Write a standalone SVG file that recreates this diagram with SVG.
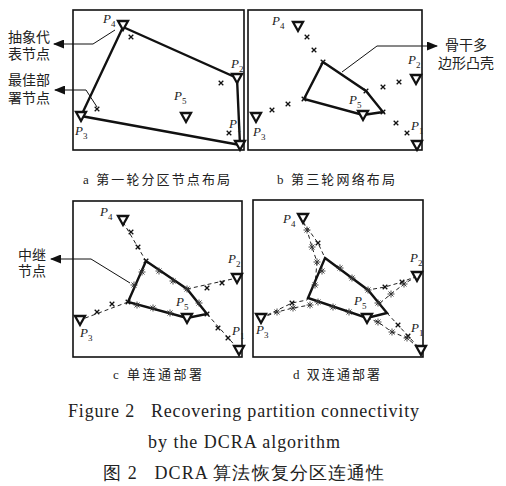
<svg xmlns="http://www.w3.org/2000/svg" xmlns:xlink="http://www.w3.org/1999/xlink" width="506" height="486" viewBox="0 0 506 486">
<defs>
<style>
.frame{fill:none;stroke:#111;stroke-width:1.6}
.poly{fill:none;stroke:#111;stroke-width:2.4;stroke-linejoin:miter}
.lead{fill:none;stroke:#111;stroke-width:1}
.dash{fill:none;stroke:#222;stroke-width:1;stroke-dasharray:4,3}
.tri{fill:#fff;stroke:#111;stroke-width:2.3;stroke-linejoin:miter}
.xm{fill:none;stroke:#111;stroke-width:1.3}
.ast{fill:none;stroke:#333;stroke-width:0.9}
.p{font-family:"Liberation Serif","Times New Roman",serif;font-style:italic;font-size:13px;fill:#222}
.sub{font-style:normal;font-size:9px;fill:#222}
.cn{font-family:"Liberation Serif","Noto Sans CJK SC",serif;font-size:14px;fill:#222}
.cap{font-family:"Liberation Serif","Noto Sans CJK SC",serif;font-size:13px;fill:#222}
.en{font-family:"Liberation Serif","Times New Roman",serif;font-size:18px;fill:#222}
</style>
<path id="tri" class="tri" d="M-5,-4 L5,-4 L0,5 Z"/>
<path id="xm" class="xm" d="M-2.3,-2.3L2.3,2.3M2.3,-2.3L-2.3,2.3"/>
<path id="ast" class="ast" d="M-3.5,0H3.5M0,-3.5V3.5M-2.5,-2.5L2.5,2.5M2.5,-2.5L-2.5,2.5"/>
<marker id="arr" markerWidth="11" markerHeight="9" refX="10" refY="4.5" orient="auto" markerUnits="userSpaceOnUse">
<path d="M0,0 L11,4.5 L0,9 Z" fill="#111"/>
</marker>
</defs>
<rect width="506" height="486" fill="#fff"/>

<!-- Panel a -->
<g id="panel-a">
<rect class="frame" x="73" y="10" width="171" height="140"/>
<g id="a-connectors">
<polygon class="poly" points="123,27 237,78 240,145 81,116"/>
<polyline class="lead" points="115,30 93,44 54,44" marker-end="url(#arr)"/>
<polyline class="lead" points="97,107 86,90 55,90" marker-end="url(#arr)"/>
</g>
<g id="a-nodes">
<use xlink:href="#tri" x="123" y="25"/>
<use xlink:href="#tri" x="237" y="78"/>
<use xlink:href="#tri" x="240" y="145"/>
<use xlink:href="#tri" x="81" y="116"/>
<use xlink:href="#tri" x="186" y="117"/>
<use xlink:href="#xm" x="131" y="37"/>
<use xlink:href="#xm" x="221" y="83"/>
<use xlink:href="#xm" x="97" y="109"/>
<use xlink:href="#xm" x="229" y="133"/>
</g>
<text class="p" x="103" y="23">P<tspan class="sub" dy="4">4</tspan></text>
<text class="p" x="231" y="68">P<tspan class="sub" dy="4">2</tspan></text>
<text class="p" x="174" y="100">P<tspan class="sub" dy="4">5</tspan></text>
<text class="p" x="229" y="128">P<tspan class="sub" dy="4">1</tspan></text>
<text class="p" x="75" y="135">P<tspan class="sub" dy="4">3</tspan></text>
<text class="cn" x="8" y="42">抽象代</text>
<text class="cn" x="8" y="59">表节点</text>
<text class="cn" x="8" y="85">最佳部</text>
<text class="cn" x="8" y="103">署节点</text>
<text class="cap" x="83" y="184" textLength="147">a 第一轮分区节点布局</text>
</g>

<!-- Panel b -->
<g id="panel-b">
<rect class="frame" x="248" y="10" width="174" height="140"/>
<g id="b-connectors">
<polygon class="poly" points="323,62 366,91 383,112 363,115 304,99"/>
<polyline class="lead" points="342,72 377,46 437,46" marker-end="url(#arr)"/>
</g>
<g id="b-nodes">
<use xlink:href="#tri" x="298" y="26"/>
<use xlink:href="#tri" x="416" y="79"/>
<use xlink:href="#tri" x="256" y="117"/>
<use xlink:href="#tri" x="417" y="145"/>
<use xlink:href="#tri" x="363" y="115"/>
<use xlink:href="#xm" x="307" y="37"/>
<use xlink:href="#xm" x="314" y="50"/>
<use xlink:href="#xm" x="323" y="62"/>
<use xlink:href="#xm" x="366" y="91"/>
<use xlink:href="#xm" x="383" y="112"/>
<use xlink:href="#xm" x="304" y="99"/>
<use xlink:href="#xm" x="288" y="104"/>
<use xlink:href="#xm" x="272" y="110"/>
<use xlink:href="#xm" x="383" y="87"/>
<use xlink:href="#xm" x="399" y="82"/>
<use xlink:href="#xm" x="396" y="123"/>
<use xlink:href="#xm" x="407" y="133"/>
</g>
<text class="p" x="272" y="25">P<tspan class="sub" dy="4">4</tspan></text>
<text class="p" x="408" y="64">P<tspan class="sub" dy="4">2</tspan></text>
<text class="p" x="349" y="104">P<tspan class="sub" dy="4">5</tspan></text>
<text class="p" x="411" y="130">P<tspan class="sub" dy="4">1</tspan></text>
<text class="p" x="253" y="136">P<tspan class="sub" dy="4">3</tspan></text>
<text class="cn" x="445" y="50">骨干多</text>
<text class="cn" x="438" y="68">边形凸壳</text>
<text class="cap" x="277" y="184" textLength="118">b 第三轮网络布局</text>
</g>

<!-- Panel c -->
<g id="panel-c">
<rect class="frame" x="73" y="201" width="169" height="156"/>
<g id="c-connectors">
<polyline class="dash" points="123,222 146,261"/>
<polyline class="dash" points="128,302 80,320"/>
<polyline class="dash" points="207,314 239,350"/>
<polyline class="dash" points="187,289 237,278"/>
<polygon class="poly" points="146,261 187,289 207,314 187,318 128,302"/>
<polyline class="lead" points="130,283 91,259 51,259" marker-end="url(#arr)"/>
</g>
<g id="c-nodes">
<use xlink:href="#tri" x="123" y="220"/>
<use xlink:href="#tri" x="237" y="278"/>
<use xlink:href="#tri" x="80" y="320"/>
<use xlink:href="#tri" x="239" y="350"/>
<use xlink:href="#tri" x="187" y="318"/>
<use xlink:href="#xm" x="131" y="232"/>
<use xlink:href="#xm" x="138" y="247"/>
<use xlink:href="#xm" x="112" y="304"/>
<use xlink:href="#xm" x="97" y="312"/>
<use xlink:href="#xm" x="218" y="328"/>
<use xlink:href="#xm" x="228" y="338"/>
<use xlink:href="#xm" x="207" y="288"/>
<use xlink:href="#xm" x="222" y="283"/>
<use xlink:href="#xm" x="146" y="261"/>
<use xlink:href="#xm" x="128" y="302"/>
<use xlink:href="#xm" x="207" y="314"/>
<use xlink:href="#ast" x="159" y="271"/>
<use xlink:href="#ast" x="173" y="281"/>
<use xlink:href="#ast" x="187" y="289"/>
<use xlink:href="#ast" x="199" y="303"/>
<use xlink:href="#ast" x="170" y="313"/>
<use xlink:href="#ast" x="153" y="308"/>
<use xlink:href="#ast" x="137" y="305"/>
<use xlink:href="#ast" x="134" y="285"/>
<use xlink:href="#ast" x="142" y="272"/>
</g>
<text class="p" x="100" y="216">P<tspan class="sub" dy="4">4</tspan></text>
<text class="p" x="228" y="263">P<tspan class="sub" dy="4">2</tspan></text>
<text class="p" x="176" y="306">P<tspan class="sub" dy="4">5</tspan></text>
<text class="p" x="80" y="337">P<tspan class="sub" dy="4">3</tspan></text>
<text class="p" x="232" y="335">P<tspan class="sub" dy="4">1</tspan></text>
<text class="cn" x="18" y="260">中继</text>
<text class="cn" x="18" y="276">节点</text>
<text class="cap" x="113" y="379" textLength="89">c 单连通部署</text>
</g>

<!-- Panel d -->
<g id="panel-d">
<rect class="frame" x="253" y="200" width="170" height="157"/>
<g id="d-connectors">
<polyline class="dash" points="303,222 318,243 325,258"/>
<polyline class="dash" points="303,222 307,230 312,247 317,262 315,285"/>
<polyline class="dash" points="417,276 402,282 385,287 368,290"/>
<polyline class="dash" points="417,276 404,284 391,294 380,303"/>
<polyline class="dash" points="261,318 292,303 307,300 308,298"/>
<polyline class="dash" points="261,318 277,312 293,308 310,305"/>
<polyline class="dash" points="387,313 398,325 421,350"/>
<polyline class="dash" points="367,318 378,322 392,332 407,338 421,350"/>
<polygon class="poly" points="325,258 368,290 387,313 367,318 308,298"/>
</g>
<g id="d-nodes">
<use xlink:href="#tri" x="303" y="218"/>
<use xlink:href="#tri" x="417" y="276"/>
<use xlink:href="#tri" x="261" y="318"/>
<use xlink:href="#tri" x="421" y="350"/>
<use xlink:href="#tri" x="367" y="318"/>
<use xlink:href="#xm" x="318" y="243"/>
<use xlink:href="#xm" x="385" y="287"/>
<use xlink:href="#xm" x="402" y="282"/>
<use xlink:href="#xm" x="292" y="303"/>
<use xlink:href="#xm" x="398" y="325"/>
<use xlink:href="#xm" x="408" y="336"/>
<use xlink:href="#ast" x="307" y="230"/>
<use xlink:href="#ast" x="312" y="247"/>
<use xlink:href="#ast" x="317" y="262"/>
<use xlink:href="#ast" x="404" y="284"/>
<use xlink:href="#ast" x="391" y="294"/>
<use xlink:href="#ast" x="277" y="312"/>
<use xlink:href="#ast" x="293" y="308"/>
<use xlink:href="#ast" x="310" y="305"/>
<use xlink:href="#ast" x="378" y="322"/>
<use xlink:href="#ast" x="392" y="332"/>
<use xlink:href="#ast" x="407" y="338"/>
<use xlink:href="#ast" x="340" y="268"/>
<use xlink:href="#ast" x="352" y="278"/>
<use xlink:href="#ast" x="368" y="290"/>
<use xlink:href="#ast" x="378" y="303"/>
<use xlink:href="#ast" x="322" y="271"/>
<use xlink:href="#ast" x="315" y="285"/>
<use xlink:href="#ast" x="333" y="307"/>
<use xlink:href="#ast" x="349" y="312"/>
<use xlink:href="#ast" x="318" y="302"/>
</g>
<text class="p" x="283" y="223">P<tspan class="sub" dy="4">4</tspan></text>
<text class="p" x="410" y="262">P<tspan class="sub" dy="4">2</tspan></text>
<text class="p" x="354" y="305">P<tspan class="sub" dy="4">5</tspan></text>
<text class="p" x="256" y="334">P<tspan class="sub" dy="4">3</tspan></text>
<text class="p" x="411" y="332">P<tspan class="sub" dy="4">1</tspan></text>
<text class="cap" x="293" y="379" textLength="87">d 双连通部署</text>
</g>

<!-- Figure caption -->
<g id="caption">
<text class="en" x="68" y="417" textLength="351" lengthAdjust="spacing" xml:space="preserve">Figure 2   Recovering partition connectivity</text>
<text class="en" x="148" y="448" textLength="192" lengthAdjust="spacing">by the DCRA algorithm</text>
<text class="en" x="103" y="479" textLength="281" lengthAdjust="spacing" xml:space="preserve">图 2   DCRA 算法恢复分区连通性</text>
</g>
</svg>
